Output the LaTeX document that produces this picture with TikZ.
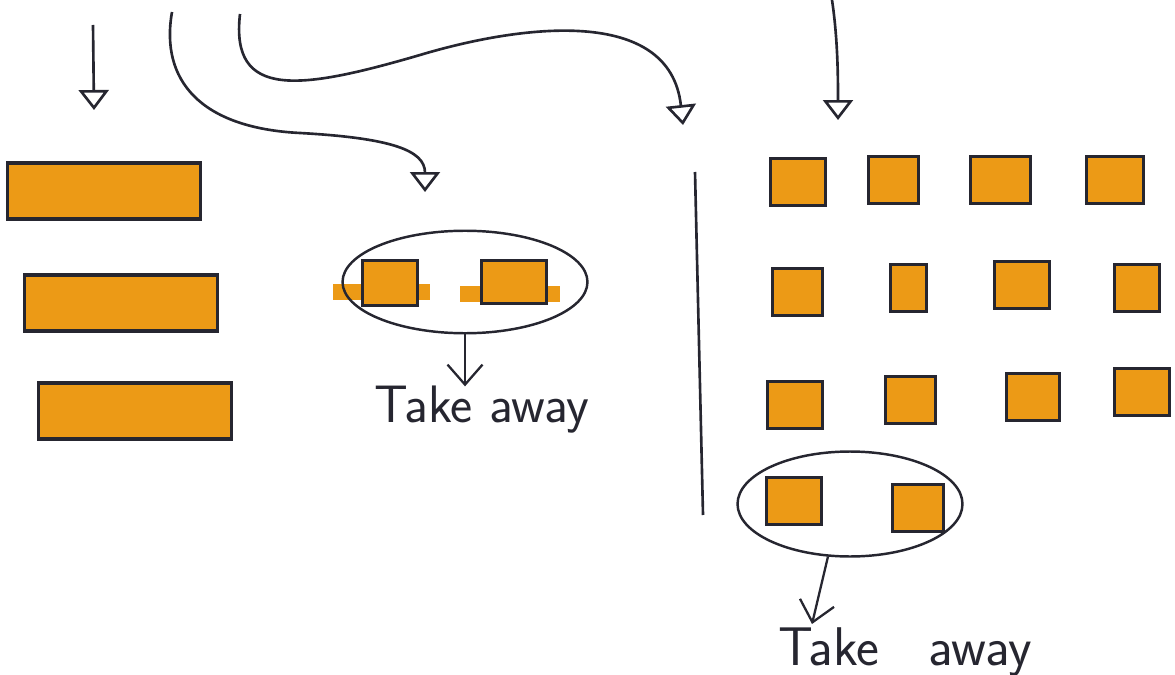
\documentclass[tikz,border=0pt]{standalone}
\usepackage{tikz}
\usetikzlibrary{arrows.meta,shapes,positioning}
\definecolor{marker}{RGB}{236,154,22}
\definecolor{ink}{RGB}{38,38,48}

\begin{document}
\begin{tikzpicture}
  [x=0.02cm,y=-0.02cm,
   every node/.style={inner sep=0pt,outer sep=0pt},
   bar/.style={rectangle,draw=ink,fill=marker,line width=1.8pt,minimum width=3.85cm,minimum height=1.12cm},
   tile/.style={rectangle,draw=ink,fill=marker,line width=1.7pt,minimum height=0.95cm},
   circled/.style={ellipse,draw=ink,line width=1.4pt},
   handtext/.style={font=\sffamily\fontsize{30}{30}\selectfont,text=ink},
   drop/.style={draw=ink,line width=1.5pt,-{Triangle[open,length=4mm,width=6mm]}},
   take/.style={draw=ink,line width=1.3pt,-{Straight Barb[length=4mm,width=7mm]}}]

  \useasboundingbox (0,0) rectangle (1175,675);

  % left column: three long bars
  \node[bar] (bar1) at (104,191) {};
  \node[bar] (bar2) at (121,303) {};
  \node[bar] (bar3) at (135,411) {};

  % middle: two tiles taken away
  \fill[marker] (333,284) rectangle (430,300);
  \fill[marker] (460,286) rectangle (560,302);
  \node[tile,minimum width=1.1cm,minimum height=0.9cm] (mid1) at (390,283) {};
  \node[tile,minimum width=1.3cm,minimum height=0.86cm] (mid2) at (514,282) {};
  \node[circled,minimum width=4.9cm,minimum height=2.05cm] (ring1) at (465,282) {};
  \node[handtext] (take1) at (482,410) {Take away};

  % divider
  \draw[ink,line width=1.5pt] (695,172) -- (703,515);

  % right: grid of tiles
  \foreach \n/\x/\y/\w in {r1a/798/182/1.1, r1b/893/180/1.0, r1c/1000/180/1.2, r1d/1115/180/1.15,
                           r2a/797/292/1.0, r2b/908/288/0.72, r2c/1022/285/1.1, r2d/1137/288/0.9,
                           r3a/795/405/1.1, r3b/910/400/1.0, r3c/1033/397/1.05, r3d/1142/392/1.1,
                           r4a/794/501/1.1, r4b/918/508/1.02}
    \node[tile,minimum width=\w cm] (\n) at (\x,\y) {};
  \node[circled,minimum width=4.5cm,minimum height=2.1cm] (ring2) at (850,504) {};
  \node[handtext,font=\sffamily\fontsize{31}{31}\selectfont] (take2) at (905,652) {Take\hspace{0.9em}away};

  % arrows from the top
  \coordinate (top1) at (93,25);
  \coordinate (end1) at (94,110);
  \coordinate (top2) at (172,12);
  \coordinate (end2) at (425,192);
  \coordinate (top3) at (240,14);
  \coordinate (end3) at (683,125);
  \coordinate (top4) at (832,0);
  \coordinate (end4) at (838,120);
  \coordinate (tip2) at (812,624);

  \draw[drop] (top1) -- (end1);
  \draw[drop] (top2) .. controls (160,80) and (200,128) .. (300,133)
                     .. controls (390,138) and (425,150) .. (end2);
  \draw[drop] (top3) .. controls (230,100) and (300,90) .. (420,55)
                     .. controls (520,25) and (670,5) .. (end3);
  \draw[drop] (top4) .. controls (838,40) and (838,80) .. (end4);

  % take away arrows
  \draw[take] (ring1.south) -- (ring1.south |- take1.north);
  \draw[take] (ring2.south -| 828,0) -- (tip2);

\end{tikzpicture}
\end{document}
